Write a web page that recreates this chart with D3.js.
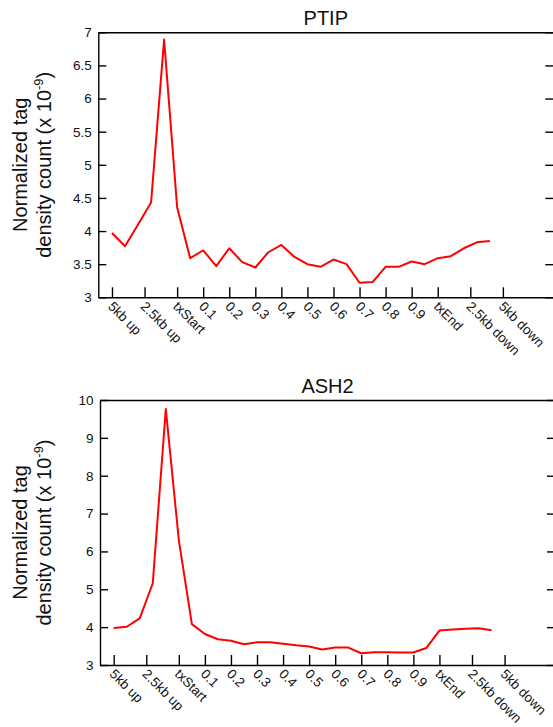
<!DOCTYPE html>
<html>
<head>
<meta charset="utf-8">
<script src="https://cdn.jsdelivr.net/npm/d3@7"></script>
<style>
  body { margin: 0; background: #fff; }
  svg { font-family: "Liberation Sans", Arial, sans-serif; }
  .axis path, .axis line { stroke: #000; stroke-width: 1.4; }
  .axis text { font-size: 13.5px; fill: #111; }
</style>
</head>
<body>
<svg id="chart" width="553" height="727"></svg>
<script>
// x positions are bin indices (1 bin = 1kb flank / 0.05 of gene body)
var xTickLabels = ["5kb up", "2.5kb up", "txStart", "0.1", "0.2", "0.3", "0.4", "0.5",
                   "0.6", "0.7", "0.8", "0.9", "txEnd", "2.5kb down", "5kb down"];
var xTickPos = [0, 2.5, 5, 7, 9, 11, 13, 15, 17, 19, 21, 23, 25, 27.5, 30];

var ptipValues = [3.97, 3.77, 4.10, 4.43, 6.89, 4.36, 3.59, 3.71, 3.47, 3.74,
                  3.53, 3.45, 3.68, 3.79, 3.61, 3.50, 3.46, 3.57, 3.50, 3.22,
                  3.23, 3.46, 3.46, 3.54, 3.50, 3.59, 3.62, 3.74, 3.83, 3.85];
var ash2Values = [3.98, 4.01, 4.23, 5.16, 9.76, 6.30, 4.08, 3.82, 3.68, 3.64,
                  3.55, 3.60, 3.60, 3.56, 3.52, 3.49, 3.41, 3.46, 3.46, 3.31,
                  3.34, 3.34, 3.33, 3.33, 3.45, 3.91, 3.94, 3.96, 3.97, 3.92];

var ptipYTicks = [3, 3.5, 4, 4.5, 5, 5.5, 6, 6.5, 7];
var ash2YTicks = [3, 4, 5, 6, 7, 8, 9, 10];

var svg = d3.select("#chart");

function drawPanel(opts) {
  var w = 455, h = 265;
  var g = svg.append("g")
    .attr("transform", "translate(" + opts.left + "," + opts.top + ")");

  var x = d3.scaleLinear().domain([-1.05, 33.87]).range([0, w]);
  var y = d3.scaleLinear().domain(opts.yDomain).range([h, 0]);

  g.append("text")
    .attr("x", w / 2)
    .attr("y", -7.5)
    .attr("text-anchor", "middle")
    .style("font-size", "20px")
    .attr("fill", "#111")
    .text(opts.title);

  g.append("g")
    .attr("class", "axis")
    .attr("transform", "translate(0," + h + ")")
    .call(d3.axisBottom(x).tickValues(xTickPos)
      .tickFormat(function(d, i) { return xTickLabels[i]; })
      .tickSizeInner(-10).tickSizeOuter(0))
    .selectAll("text")
      .attr("x", 0).attr("y", 0)
      .attr("dy", "0.35em")
      .attr("text-anchor", "start")
      .attr("transform", "translate(-2,6.5) rotate(45)");

  g.append("g")
    .attr("class", "axis")
    .call(d3.axisLeft(y).tickValues(opts.yTicks)
      .tickFormat(function(d) { return String(d); })
      .tickSizeInner(-8).tickSizeOuter(0).tickPadding(6.5));

  g.append("g")
    .attr("class", "axis")
    .attr("transform", "translate(" + w + ",0)")
    .call(d3.axisRight(y).tickValues(opts.yTicks)
      .tickFormat("").tickSizeInner(-8).tickSizeOuter(0));

  g.append("g")
    .attr("class", "axis")
    .call(d3.axisTop(x).tickValues([]).tickSizeOuter(0));

  var line = d3.line()
    .x(function(d, i) { return x(i); })
    .y(function(d) { return y(d); });

  g.append("path")
    .datum(opts.values)
    .attr("fill", "none")
    .attr("stroke", "#ff0000")
    .attr("stroke-width", 2)
    .attr("stroke-linejoin", "round")
    .attr("d", line);

  var lab = svg.append("text")
    .attr("transform", "translate(26.7," + (opts.top + h / 2) + ") rotate(-90)")
    .attr("text-anchor", "middle")
    .style("font-size", "20px")
    .attr("fill", "#111");
  lab.append("tspan").attr("x", 0).attr("y", 0).text("Normalized tag");
  lab.append("tspan").attr("x", 0).attr("y", 24).text("density count (x 10");
  lab.append("tspan").attr("dy", -8).style("font-size", "13px").text("-9");
  lab.append("tspan").attr("dy", 8).text(")");
}

drawPanel({ title: "PTIP", left: 98.3, top: 32.3, yDomain: [3, 7],
            yTicks: ptipYTicks, values: ptipValues });
drawPanel({ title: "ASH2", left: 100, top: 400, yDomain: [3, 10],
            yTicks: ash2YTicks, values: ash2Values });
</script>
</body>
</html>
